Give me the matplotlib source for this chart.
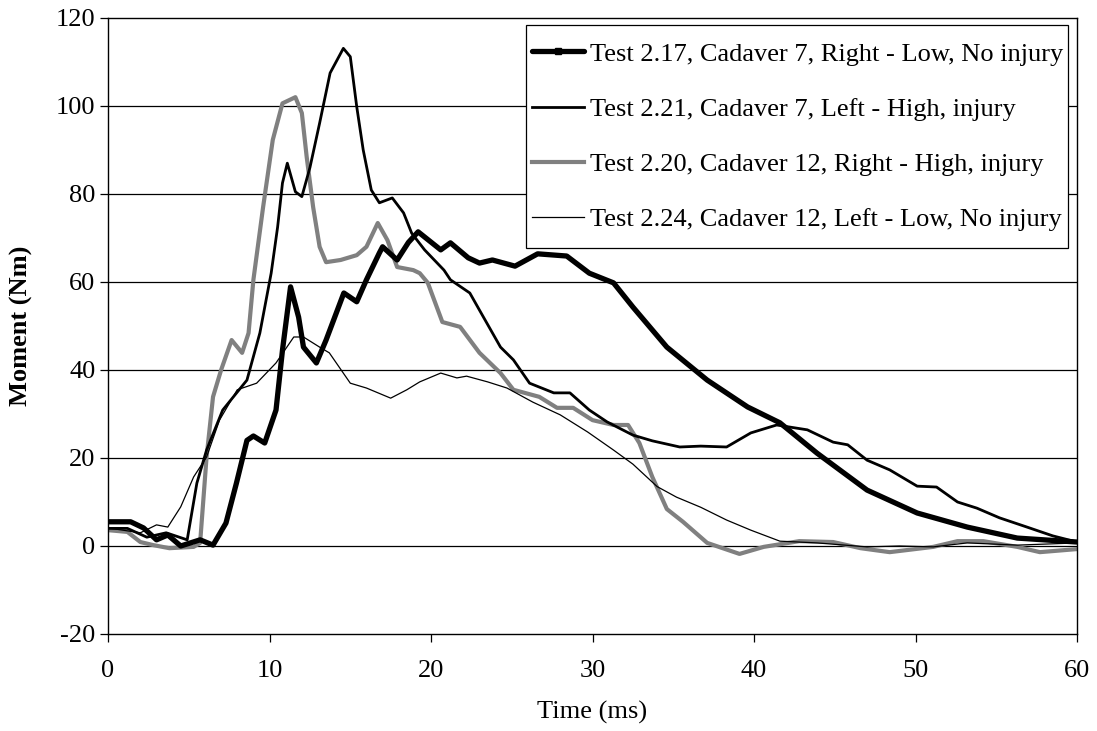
import matplotlib
matplotlib.use("Agg")
import matplotlib.pyplot as plt
from matplotlib.patches import Rectangle

plt.rcParams['font.family'] = ['Liberation Serif', 'DejaVu Serif']
plt.rcParams['axes.unicode_minus'] = False

# Test 2.17, Cadaver 7, Right - Low, No injury (thick black)
t1 = [0, 1.4, 2.2, 3.0, 3.7, 4.5, 5.7, 6.5, 7.3, 7.95, 8.6, 9.0, 9.7, 10.4, 10.8, 11.3, 11.8,
      12.1, 12.9, 13.5, 14.6, 15.4, 16.0, 16.8, 17.0, 17.9, 18.6, 19.2, 20.6, 21.2, 22.3, 23.0,
      23.8, 25.2, 26.6, 28.4, 29.8, 31.3, 32.5, 34.6, 37.1, 39.6, 41.6, 43.9, 47.0, 50.1,
      53.2, 56.3, 60.0]
m1 = [5.5, 5.5, 4.1, 1.4, 2.5, 0.0, 1.4, 0.2, 5.2, 14.3, 24.0, 25.0, 23.4, 30.9, 44.5, 58.9, 52.0,
      45.2, 41.6, 46.8, 57.5, 55.5, 60.5, 66.6, 68.0, 65.0, 69.0, 71.4, 67.3, 68.9, 65.5, 64.3,
      65.0, 63.6, 66.4, 65.9, 62.0, 59.8, 54.3, 45.2, 37.7, 31.6, 28.0, 21.1, 12.7, 7.5,
      4.3, 1.8, 0.9]

# Test 2.21, Cadaver 7, Left - High, injury (medium black)
t2 = [0, 1.2, 2.4, 3.6, 4.9, 5.5, 6.1, 7.1, 8.6, 9.4, 10.1, 10.5, 10.8, 11.1, 11.6, 12.0,
      12.5, 13.1, 13.75, 14.57, 15.0, 15.4, 15.8, 16.3, 16.8, 17.6, 18.3, 18.8, 19.6, 20.8,
      21.2, 22.4, 23.0, 24.3, 25.1, 26.1, 27.6, 28.6, 29.8, 30.9, 32.5, 33.7, 35.4, 36.7,
      38.3, 39.8, 41.4, 43.3, 44.9, 45.8, 47.0, 48.4, 50.1, 51.3, 52.6, 53.8, 55.2, 56.9,
      58.5, 60.0]
m2 = [4.0, 4.0, 2.0, 3.0, 1.4, 14.3, 21.8, 30.9, 37.7, 48.4, 62.0, 72.5, 82.5, 87.0, 80.5, 79.4,
      86.0, 96.1, 107.5, 113.1, 111.2, 99.8, 90.0, 80.9, 78.0, 79.1, 75.7, 71.1, 67.3, 62.7,
      60.5, 57.5, 53.6, 45.2, 42.3, 37.0, 34.8, 34.8, 30.9, 28.2, 25.2, 23.9, 22.5, 22.7,
      22.5, 25.7, 27.5, 26.4, 23.6, 23.0, 19.5, 17.3, 13.6, 13.4, 10.0, 8.6, 6.4, 4.3,
      2.3, 0.9]

# Test 2.20, Cadaver 12, Right - High, injury (gray)
t3 = [0, 1.2, 2.0, 2.8, 3.8, 5.3, 5.7, 6.1, 6.5, 7.0, 7.65, 8.3, 8.7, 9.0, 9.6, 10.2, 10.8,
      11.6, 12.0, 12.3, 12.7, 13.1, 13.5, 14.4, 15.4, 16.0, 16.7, 17.3, 17.9, 18.9, 19.3,
      19.8, 20.7, 21.8, 23.0, 24.3, 25.1, 26.7, 27.8, 28.8, 30.0, 31.3, 32.2, 32.9, 33.7,
      34.6, 35.6, 37.1, 39.1, 40.6, 42.8, 44.9, 46.6, 48.4, 51.1, 52.6, 54.2, 56.3, 57.7, 60.0]
m3 = [3.6, 3.2, 0.9, 0.2, -0.5, -0.2, 0.7, 20.2, 33.9, 40.0, 46.8, 43.9, 48.4, 60.5, 77.0, 92.3,
      100.6, 102.0, 98.4, 88.4, 77.0, 68.0, 64.5, 65.0, 66.1, 68.0, 73.4, 69.5, 63.4, 62.7, 62.0,
      59.8, 50.9, 49.8, 43.9, 39.3, 35.5, 33.9, 31.4, 31.4, 28.6, 27.5, 27.5, 23.4, 15.7,
      8.4, 5.5, 0.7, -1.8, -0.2, 1.1, 0.9, -0.5, -1.4, -0.2, 1.1, 1.1, -0.2, -1.4, -0.7]

# Test 2.24, Cadaver 12, Left - Low, No injury (thin black)
t4 = [0, 2.0, 3.0, 3.7, 4.5, 5.3, 6.1, 6.9, 8.0, 9.2, 10.4, 11.5, 12.1, 13.1, 13.7, 15.0,
      16.0, 17.5, 18.5, 19.3, 20.6, 21.6, 22.2, 23.5, 24.7, 26.3, 28.0, 29.7,
      31.3, 32.5, 34.0, 35.2, 36.7, 38.3, 39.8, 41.6, 43.9, 47.0, 49.0, 51.1, 53.2, 56.3, 60.0]
m4 = [4.1, 3.0, 4.8, 4.3, 8.9, 15.7, 20.2, 28.6, 35.5, 37.0, 41.6, 47.5, 47.5, 45.2, 43.9, 37.0,
      35.9, 33.6, 35.5, 37.3, 39.3, 38.2, 38.6, 37.3, 35.9, 32.7, 29.8, 25.9,
      21.8, 18.6, 13.5, 11.1, 8.8, 5.9, 3.6, 1.1, 0.7, -0.2, 0.0, -0.2, 0.7, 0.2, 0.7]

labels = ["Test 2.17, Cadaver 7, Right - Low, No injury",
          "Test 2.21, Cadaver 7, Left - High, injury",
          "Test 2.20, Cadaver 12, Right - High, injury",
          "Test 2.24, Cadaver 12, Left - Low, No injury"]

x_ticks = [0, 10, 20, 30, 40, 50, 60]
y_ticks = [-20, 0, 20, 40, 60, 80, 100, 120]

FS = 19

fig = plt.figure(figsize=(10.97, 7.31), dpi=100)
ax = fig.add_axes([0.0985, 0.1327, 0.8833, 0.8427])

for y in y_ticks[1:-1]:
    ax.axhline(y, color='black', lw=0.9, zorder=0)

ax.plot(t1, m1, color='black', lw=3.8, solid_joinstyle='round', solid_capstyle='round',
        label=labels[0], zorder=4)
ax.plot(t2, m2, color='black', lw=2.0, solid_joinstyle='round', label=labels[1], zorder=3)
ax.plot(t3, m3, color='#808080', lw=3.0, solid_joinstyle='round', label=labels[2], zorder=2)
ax.plot(t4, m4, color='black', lw=0.9, solid_joinstyle='round', label=labels[3], zorder=3)

ax.set_xlim(0, 60)
ax.set_ylim(-20, 120)
ax.set_xticks(x_ticks)
ax.set_yticks(y_ticks)
ax.tick_params(axis='both', direction='out', length=6, width=0.9, labelsize=FS, color='black')
ax.tick_params(axis='x', pad=13)
ax.tick_params(axis='y', pad=3)
for s in ax.spines.values():
    s.set_color('black')
    s.set_linewidth(1.0)

ax.set_xlabel("Time (ms)", fontsize=FS)
ax.xaxis.set_label_coords(0.5, -0.108)
ax.set_ylabel("Moment (Nm)", fontsize=FS, fontweight='bold')
ax.yaxis.set_label_coords(-0.077, 0.5)

# legend without its own frame; a tighter frame is drawn below
inset = 12  # px trimmed from left/right of the legend box
leg = ax.legend(loc='upper right', bbox_to_anchor=((1068 + inset) / 1097, 1 - 25 / 731),
                bbox_transform=fig.transFigure, fontsize=FS, frameon=False,
                handlelength=2.0, handletextpad=0.2, labelspacing=1.2,
                borderpad=0.65, borderaxespad=0.0)
leg.set_zorder(6)
h0 = leg.legend_handles[0]
h0.set_marker('s')
h0.set_markersize(5)

fig.canvas.draw()
bb = leg.get_window_extent()
inv = ax.transAxes.inverted()
(x0, y0), (x1, y1) = inv.transform([(bb.x0 + inset, bb.y0), (bb.x1 - inset, bb.y1)])
frame = Rectangle((x0, y0), x1 - x0, y1 - y0, transform=ax.transAxes, facecolor='white',
                  edgecolor='black', linewidth=0.9, zorder=5, clip_on=False)
ax.add_patch(frame)

fig.savefig("out.png", dpi=100)
